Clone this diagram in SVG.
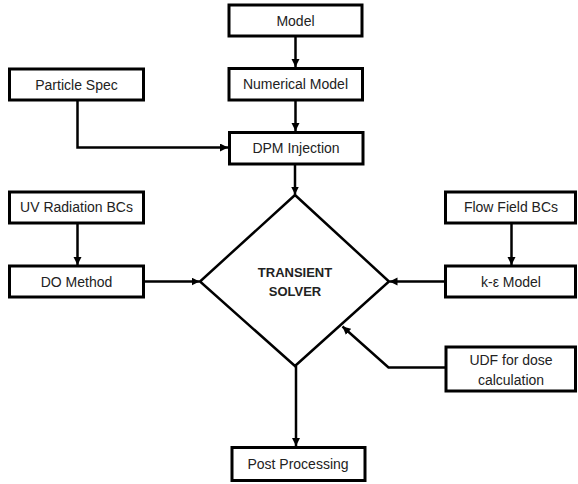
<svg xmlns="http://www.w3.org/2000/svg" width="578" height="484" viewBox="0 0 578 484">
<style>
.box{fill:#fff;stroke:#000;stroke-width:3}
.dia{fill:#fff;stroke:#000;stroke-width:2.5;stroke-linejoin:miter}
.t{font-family:"Liberation Sans",Arial,sans-serif;font-size:14px;fill:#222;text-anchor:middle}
.b{font-family:"Liberation Sans",Arial,sans-serif;font-size:13px;font-weight:bold;fill:#222;text-anchor:middle}
.c{fill:none;stroke:#000;stroke-width:2.5}
</style>
<defs>
<marker id="ah" markerUnits="userSpaceOnUse" markerWidth="9" markerHeight="9" refX="8" refY="4" orient="auto">
<path d="M0,0 L8,4 L0,8 z" fill="#000"/>
</marker>
</defs>
<rect width="578" height="484" fill="#fff"/>
<g id="connectors">
<path class="c" d="M295.5,36.5 V67" marker-end="url(#ah)"/>
<path class="c" d="M295.5,100 V131" marker-end="url(#ah)"/>
<path class="c" d="M77.5,100 V147.5 H228" marker-end="url(#ah)"/>
<path class="c" d="M295,164 V194.5" marker-end="url(#ah)"/>
<path class="c" d="M77.5,223 V265" marker-end="url(#ah)"/>
<path class="c" d="M511.5,223 V265" marker-end="url(#ah)"/>
<path class="c" d="M144,281.5 H199.5" marker-end="url(#ah)"/>
<path class="c" d="M445,281.5 H389.5" marker-end="url(#ah)"/>
<path class="c" d="M446,367.5 H388.5 L342.5,326.5" marker-end="url(#ah)"/>
<path class="c" d="M296,366 V446" marker-end="url(#ah)"/>
</g>
<g id="model"><rect class="box" x="229" y="5" width="133" height="31"/><text class="t" x="295.5" y="25.5">Model</text></g>
<g id="numerical-model"><rect class="box" x="229" y="68.5" width="133.5" height="31.5"/><text class="t" x="295.5" y="89">Numerical Model</text></g>
<g id="particle-spec"><rect class="box" x="9.5" y="69" width="134" height="31"/><text class="t" x="76.5" y="89.5">Particle Spec</text></g>
<g id="dpm-injection"><rect class="box" x="229.5" y="132.5" width="133.5" height="31.5"/><text class="t" x="296" y="153">DPM Injection</text></g>
<g id="uv-radiation-bcs"><rect class="box" x="9.5" y="192" width="134" height="31"/><text class="t" x="76.5" y="212">UV Radiation BCs</text></g>
<g id="do-method"><rect class="box" x="9.5" y="266" width="134" height="31"/><text class="t" x="76.5" y="286.5">DO Method</text></g>
<g id="flow-field-bcs"><rect class="box" x="445.5" y="192" width="130" height="31"/><text class="t" x="511" y="212">Flow Field BCs</text></g>
<g id="k-epsilon-model"><rect class="box" x="445.5" y="266" width="130" height="31"/><text class="t" x="511" y="286.5">k-ε Model</text></g>
<g id="transient-solver"><polygon class="dia" points="295,195 389,281.5 295,366 200,281.5"/><text class="b" x="295" y="276.5">TRANSIENT</text><text class="b" x="295" y="295.5">SOLVER</text></g>
<g id="udf"><rect class="box" x="446" y="347" width="129.5" height="44"/><text class="t" x="511" y="365">UDF for dose</text><text class="t" x="511" y="385">calculation</text></g>
<g id="post-processing"><rect class="box" x="232" y="447.5" width="133" height="33"/><text class="t" x="298" y="469">Post Processing</text></g>
</svg>
